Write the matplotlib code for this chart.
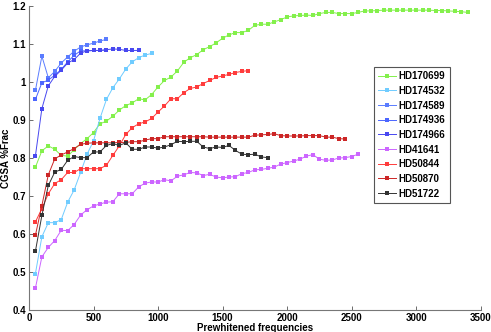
import numpy as np
import matplotlib
matplotlib.use('Agg')
import matplotlib.pyplot as plt

plt.rcParams['font.family'] = ['Liberation Sans', 'DejaVu Sans']
plt.rcParams['font.weight'] = 'bold'

step = 50  # prewhitened frequencies are sampled every 50

names = ['HD170699', 'HD174532', 'HD174589', 'HD174936', 'HD174966',
         'HD41641', 'HD50844', 'HD50870', 'HD51722']
colors = ['#84f04c', '#70ccff', '#5a7cff', '#4c66ff', '#4848f0',
          '#cc66ff', '#ff3c3c', '#cc2626', '#333333']

hd170699 = [0.776, 0.819, 0.832, 0.823, 0.807, 0.805, 0.822, 0.838, 0.851, 0.867,
            0.890, 0.897, 0.910, 0.926, 0.938, 0.945, 0.956, 0.953, 0.967, 0.987,
            1.004, 1.013, 1.029, 1.052, 1.064, 1.072, 1.085, 1.093, 1.103, 1.115,
            1.124, 1.130, 1.130, 1.136, 1.149, 1.152, 1.152, 1.158, 1.164, 1.171,
            1.174, 1.175, 1.176, 1.175, 1.180, 1.183, 1.183, 1.180, 1.180, 1.180,
            1.183, 1.187, 1.187, 1.188, 1.189, 1.189, 1.189, 1.189, 1.189, 1.189,
            1.189, 1.189, 1.188, 1.188, 1.187, 1.186, 1.185, 1.183]
hd174532 = [0.496, 0.593, 0.630, 0.630, 0.638, 0.684, 0.716, 0.762, 0.810, 0.845,
            0.904, 0.954, 0.985, 1.008, 1.034, 1.053, 1.064, 1.071, 1.075]
hd174589 = [0.978, 1.068, 1.011, 1.028, 1.050, 1.066, 1.081, 1.092, 1.098, 1.102,
            1.108, 1.112]
hd174936 = [0.954, 0.998, 1.005, 1.018, 1.033, 1.053, 1.070, 1.082, 1.082, 1.083,
            1.083, 1.084]
hd174966 = [0.806, 0.930, 0.990, 1.015, 1.031, 1.050, 1.059, 1.076, 1.082, 1.083,
            1.083, 1.085, 1.087, 1.086, 1.083, 1.083, 1.083]
hd41641 = [0.458, 0.540, 0.565, 0.583, 0.610, 0.609, 0.625, 0.650, 0.664, 0.674,
           0.679, 0.684, 0.685, 0.706, 0.706, 0.706, 0.724, 0.734, 0.737, 0.737,
           0.743, 0.740, 0.752, 0.756, 0.762, 0.761, 0.754, 0.757, 0.750, 0.748,
           0.750, 0.751, 0.759, 0.762, 0.769, 0.770, 0.773, 0.776, 0.784, 0.788,
           0.792, 0.797, 0.805, 0.809, 0.797, 0.794, 0.795, 0.800, 0.801, 0.804,
           0.810]
hd50844 = [0.632, 0.667, 0.706, 0.733, 0.743, 0.762, 0.762, 0.772, 0.772, 0.772,
           0.772, 0.781, 0.807, 0.832, 0.862, 0.880, 0.890, 0.895, 0.904, 0.921,
           0.937, 0.956, 0.956, 0.972, 0.983, 0.987, 0.996, 1.004, 1.012, 1.016,
           1.020, 1.025, 1.028, 1.030]
hd50870 = [0.597, 0.675, 0.756, 0.798, 0.808, 0.816, 0.825, 0.836, 0.839, 0.840,
           0.840, 0.840, 0.840, 0.841, 0.841, 0.843, 0.843, 0.847, 0.851, 0.851,
           0.856, 0.856, 0.856, 0.856, 0.856, 0.856, 0.856, 0.855, 0.855, 0.855,
           0.855, 0.855, 0.855, 0.855, 0.860, 0.861, 0.862, 0.864, 0.859, 0.858,
           0.858, 0.858, 0.859, 0.859, 0.859, 0.855, 0.855, 0.851, 0.850]
hd51722 = [0.555, 0.649, 0.728, 0.763, 0.770, 0.794, 0.804, 0.801, 0.801, 0.816,
           0.816, 0.833, 0.838, 0.833, 0.840, 0.823, 0.823, 0.829, 0.829, 0.826,
           0.829, 0.835, 0.844, 0.843, 0.844, 0.844, 0.829, 0.825, 0.829, 0.828,
           0.833, 0.820, 0.810, 0.809, 0.810, 0.803, 0.801]

series = [hd170699, hd174532, hd174589, hd174936, hd174966,
          hd41641, hd50844, hd50870, hd51722]

fig = plt.figure(figsize=(4.91, 3.32), dpi=100)
ax = fig.add_axes([0.059, 0.066, 0.920, 0.916])

for y, name, c in zip(series, names, colors):
    x = step * np.arange(1, len(y) + 1)
    ax.plot(x, y, color=c, lw=0.7, marker='s', ms=2.2, mew=0, label=name)

ax.set_xlim(0, 3500)
ax.set_ylim(0.4, 1.2)
ax.set_xticks([0, 500, 1000, 1500, 2000, 2500, 3000, 3500])
ax.set_yticks([0.4, 0.5, 0.6, 0.7, 0.8, 0.9, 1.0, 1.1, 1.2])
ax.set_yticklabels(['0.4', '0.5', '0.6', '0.7', '0.8', '0.9', '1', '1.1', '1.2'])
ax.tick_params(direction='in', length=3, width=0.6, labelsize=7, pad=2,
               color='#555555')
for lab in ax.get_xticklabels() + ax.get_yticklabels():
    lab.set_fontweight('bold')
ax.spines['top'].set_visible(False)
ax.spines['right'].set_visible(False)
for s in ['left', 'bottom']:
    ax.spines[s].set_color('#777777')
    ax.spines[s].set_linewidth(0.8)

ax.set_xlabel('Prewhitened frequencies', fontsize=7, fontweight='bold', labelpad=0)
ax.set_ylabel('CGSA %Frac', fontsize=7, fontweight='bold', labelpad=1)

leg = ax.legend(loc='upper left', bbox_to_anchor=(0.763, 0.800), borderaxespad=0,
                fontsize=7, handlelength=1.8, labelspacing=0.48,
                handletextpad=0.3, borderpad=0.45, fancybox=False, framealpha=1)
leg.get_frame().set_edgecolor('#555555')
leg.get_frame().set_linewidth(0.8)
for t in leg.get_texts():
    t.set_fontweight('bold')

fig.savefig('out.png', dpi=100)
